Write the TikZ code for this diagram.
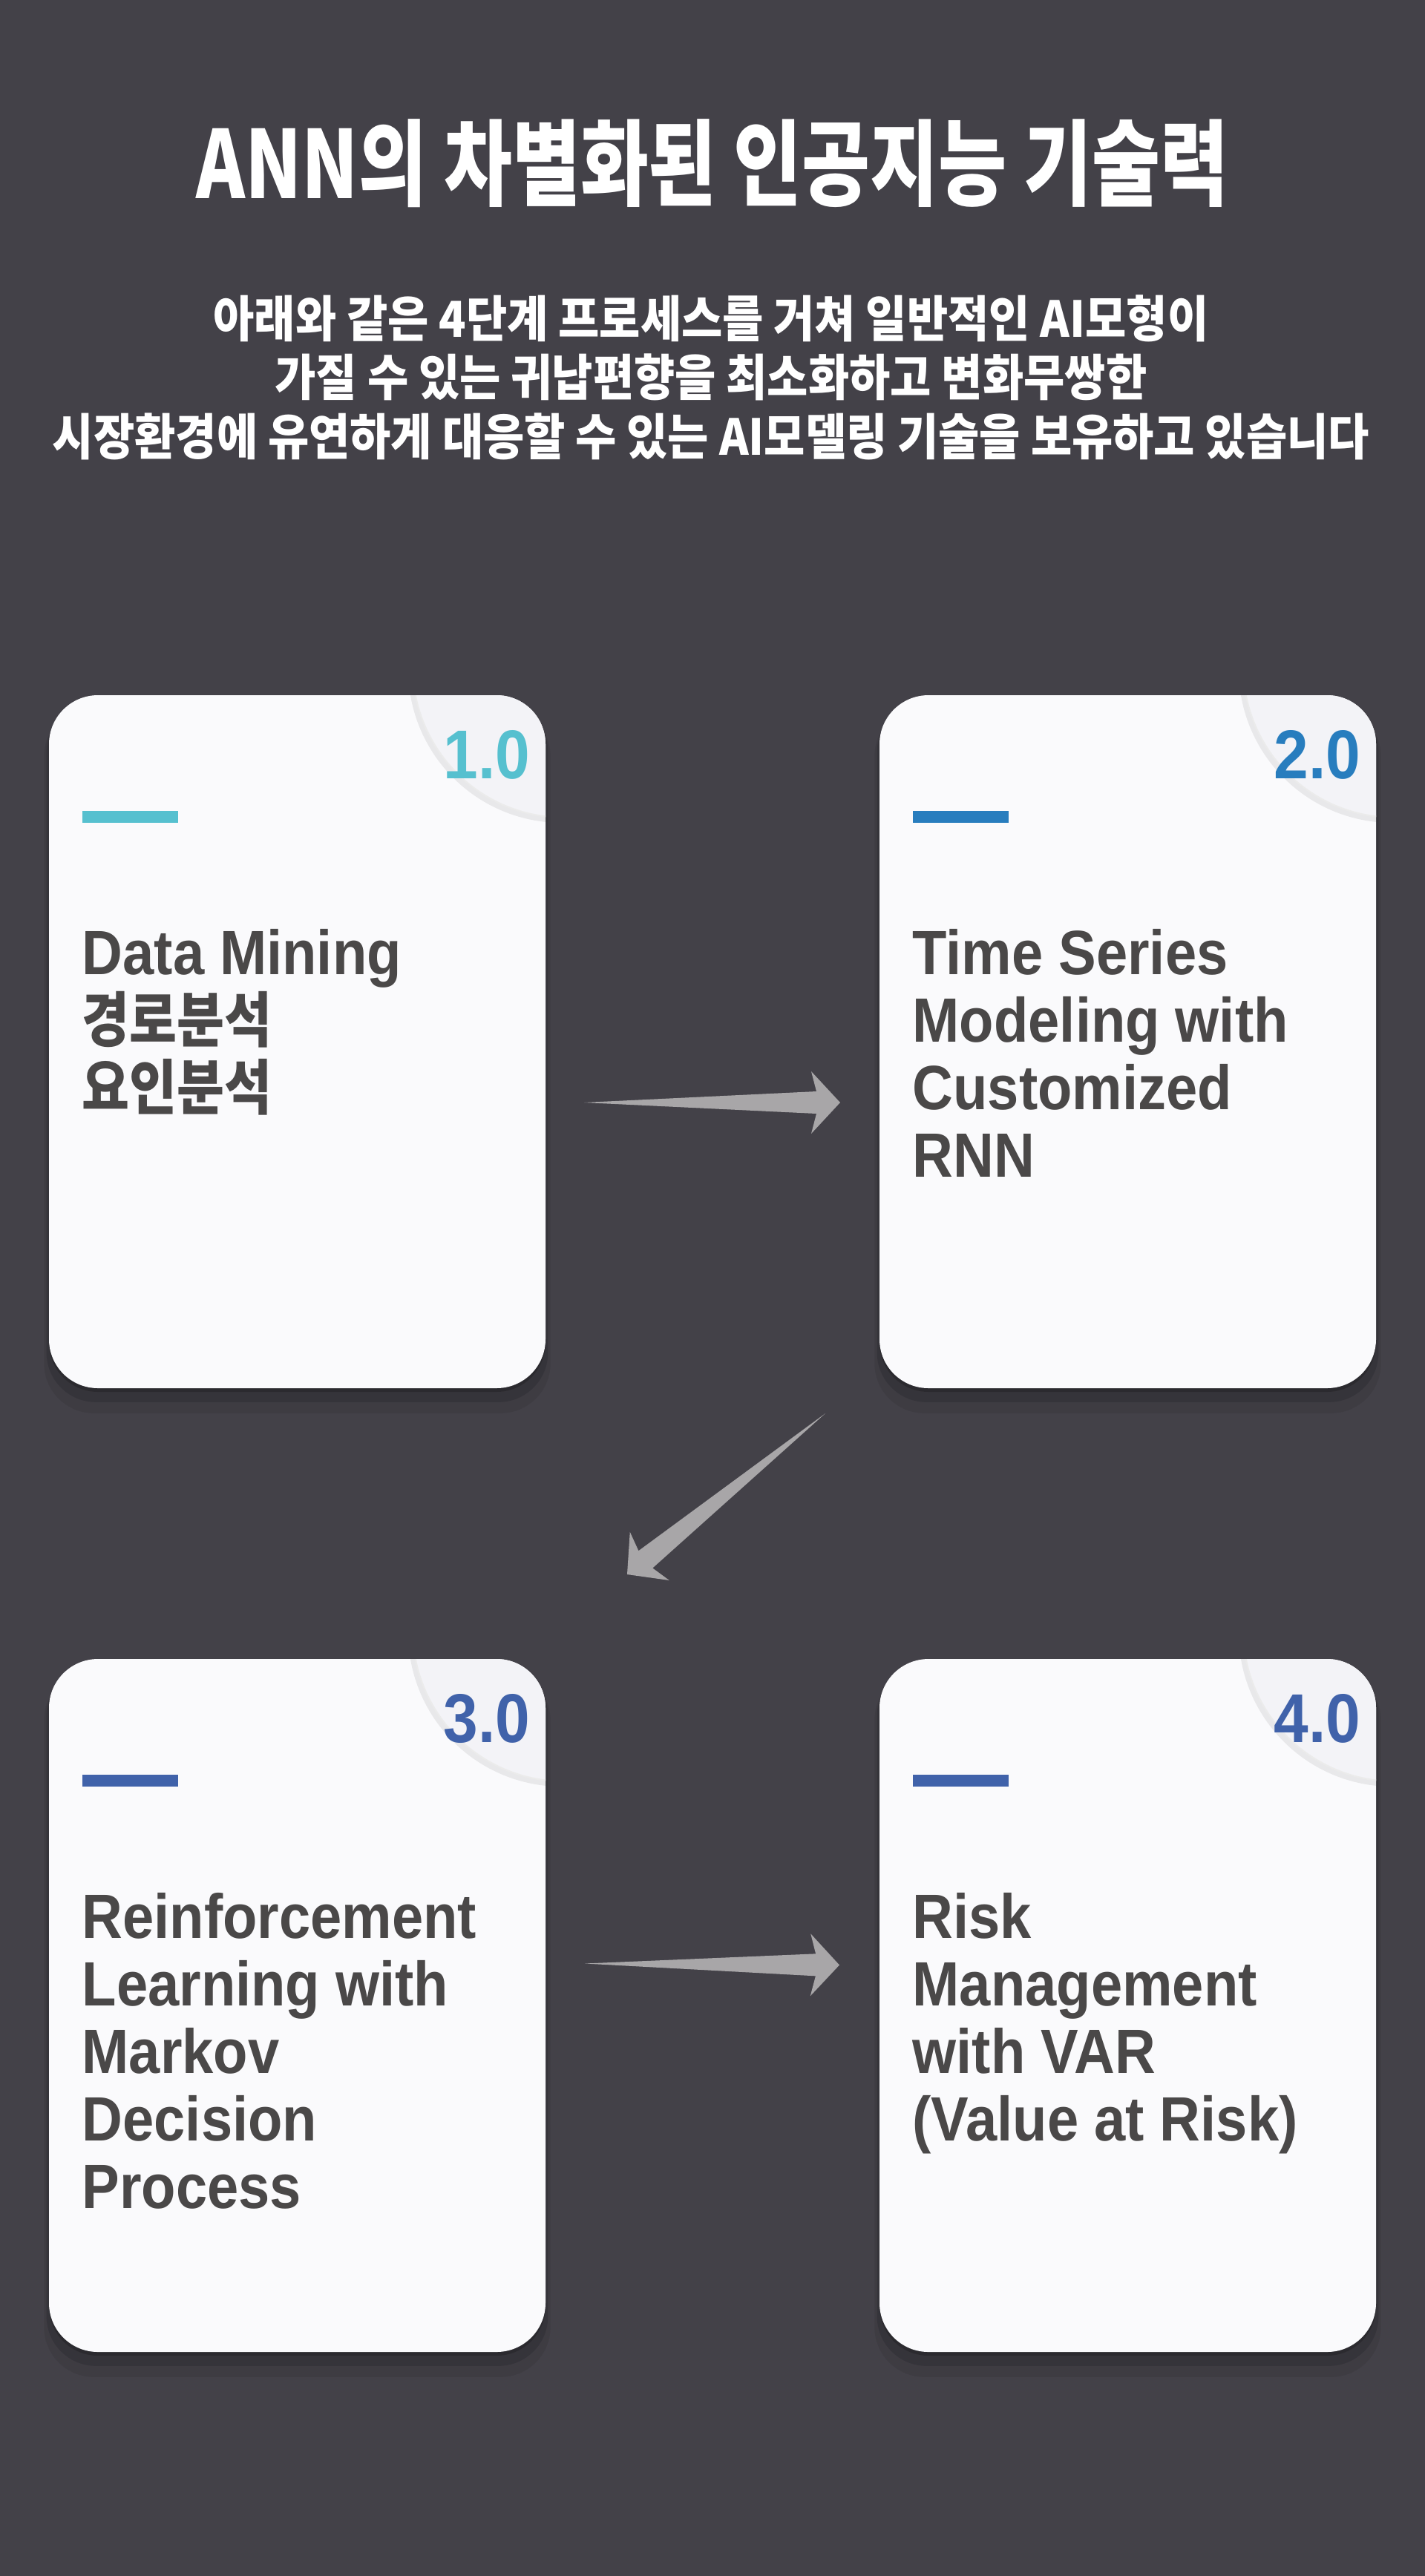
\documentclass[tikz,border=0pt]{standalone}
\usepackage{fontspec}
\setmainfont{Liberation Sans}
\newfontfamily\cardfont[FakeStretch=0.9]{Liberation Sans}
\newfontfamily\titlefont[FakeStretch=0.79]{Noto Sans CJK KR}
\newfontfamily\subfont[FakeStretch=0.9]{Noto Sans CJK KR}
\newfontfamily\krcard[FakeStretch=0.86]{Noto Sans CJK KR}
\usetikzlibrary{positioning, calc, shadows}
\definecolor{bgdark}{RGB}{67,65,72}
\definecolor{cardwhite}{RGB}{250,250,252}
\definecolor{circlegray}{RGB}{243,243,247}
\definecolor{textgray}{RGB}{74,72,72}
\definecolor{numteal}{RGB}{86,192,207}
\definecolor{numblue}{RGB}{40,125,190}
\definecolor{numindigo}{RGB}{64,98,170}
\definecolor{arrowgray}{RGB}{168,166,168}

\tikzset{
  card/.style={rectangle, rounded corners=0.66cm, fill=cardwhite, outer sep=0pt,
    minimum width=6.69cm, minimum height=9.34cm,
    drop shadow={shadow xshift=0cm, shadow yshift=-0.05cm, opacity=0.18, fill=black},
    drop shadow={shadow xshift=0cm, shadow yshift=-0.14cm, shadow scale=1.01, opacity=0.12, fill=black},
    drop shadow={shadow xshift=0cm, shadow yshift=-0.24cm, shadow scale=1.02, opacity=0.07, fill=black}},
  cardtext/.style={inner sep=0pt, align=left, text=textgray,
    font=\cardfont\bfseries\fontsize{24}{25.89}\selectfont},
  numlabel/.style={inner sep=0pt, font=\cardfont\bfseries\fontsize{26.5}{26.5}\selectfont},
  bar/.style={rectangle, inner sep=0pt, minimum width=1.29cm, minimum height=0.16cm}
}

% number corner and colour bar of one card
\newcommand{\cardhead}[3]{%
  \begin{scope}
    \clip[rounded corners=0.66cm] (#1.south west) rectangle (#1.north east);
    \fill[black, opacity=0.07] ($(#1.north east)+(0.22,0.35)$) circle (2.07);
    \fill[circlegray, draw=black!8, line width=0.6pt] ($(#1.north east)+(0.25,0.39)$) circle (2.04);
  \end{scope}
  \node[numlabel, text=#2, anchor=base east] (#1num) at ($(#1.north east)+(-0.2,-1.12)$) {#3};
  \node[bar, fill=#2, anchor=north west] (#1bar) at ($(#1.north west)+(0.44,-1.55)$) {};
}

% tapered grey arrow from #1 to #2
\newcommand{\flowarrow}[2]{%
  \coordinate (#1n) at ($(#2)!0.32cm!(#1)$);
  \coordinate (#1b) at ($(#2)!0.39cm!(#1)$);
  \fill[arrowgray] (#1) -- ($(#1n)!0.15cm!90:(#2)$) -- ($(#1b)!0.42cm!90:(#2)$) -- (#2)
    -- ($(#1b)!0.42cm!-90:(#2)$) -- ($(#1n)!0.15cm!-90:(#2)$) -- cycle;
}

\newcommand{\kr}[1]{{\krcard\fontsize{23}{25.89}\selectfont #1}}

\begin{document}
\begin{tikzpicture}
\useasboundingbox (0,0) rectangle (19.2,-34.72);
\fill[bgdark] (0,0) rectangle (19.2,-34.72);

% Heading (base anchor = last line)
\node[inner sep=0pt, text=white, anchor=base, font=\titlefont\bfseries\fontsize{36}{36}\selectfont] (title) at (9.6,-2.67) {ANN의 차별화된 인공지능 기술력};
\node[inner sep=0pt, text=white, anchor=base, align=center, font=\subfont\bfseries\fontsize{19}{22.6}\selectfont] (intro) at (9.58,-6.13)
  {아래와 같은 4단계 프로세스를 거쳐 일반적인 AI모형이\\가질 수 있는 귀납편향을 최소화하고 변화무쌍한\\시장환경에 유연하게 대응할 수 있는 AI모델링 기술을 보유하고 있습니다};

% Cards
\node[card, anchor=north west] (c1) at (0.66,-9.37) {};
\node[card, right=4.5cm of c1] (c2) {};
\node[card, below=3.65cm of c1] (c3) {};
\node[card, right=4.5cm of c3] (c4) {};

\cardhead{c1}{numteal}{1.0}
\cardhead{c2}{numblue}{2.0}
\cardhead{c3}{numindigo}{3.0}
\cardhead{c4}{numindigo}{4.0}

% Card texts, placed at the baseline of their last line
\node[cardtext, anchor=base west] (c1txt) at ($(c1.north west)+(0.44,-5.58)$)
  {Data Mining\\\kr{경로분석}\\\kr{요인분석}};
\node[cardtext, anchor=base west] (c2txt) at ($(c2.north west)+(0.44,-6.49)$)
  {Time Series\\Modeling with\\Customized\\RNN};
\node[cardtext, anchor=base west] (c3txt) at ($(c3.north west)+(0.44,-7.40)$)
  {Reinforcement\\Learning with\\Markov\\Decision\\Process};
\node[cardtext, anchor=base west] (c4txt) at ($(c4.north west)+(0.44,-6.49)$)
  {Risk\\Management\\with VAR\\(Value at Risk)};

% Arrows
\coordinate (a1s) at ($(c1.east)+(0.52,-0.82)$);
\coordinate (a1e) at ($(c2.west)+(-0.53,-0.82)$);
\coordinate (a2s) at ($(c2.south west)+(-0.73,-0.34)$);
\coordinate (a2e) at ($(c3.north east)+(1.10,1.14)$);
\coordinate (a3s) at ($(c3.east)+(0.53,0.565)$);
\coordinate (a3e) at ($(c4.west)+(-0.54,0.545)$);
\flowarrow{a1s}{a1e}
\flowarrow{a2s}{a2e}
\flowarrow{a3s}{a3e}

\end{tikzpicture}
\end{document}
